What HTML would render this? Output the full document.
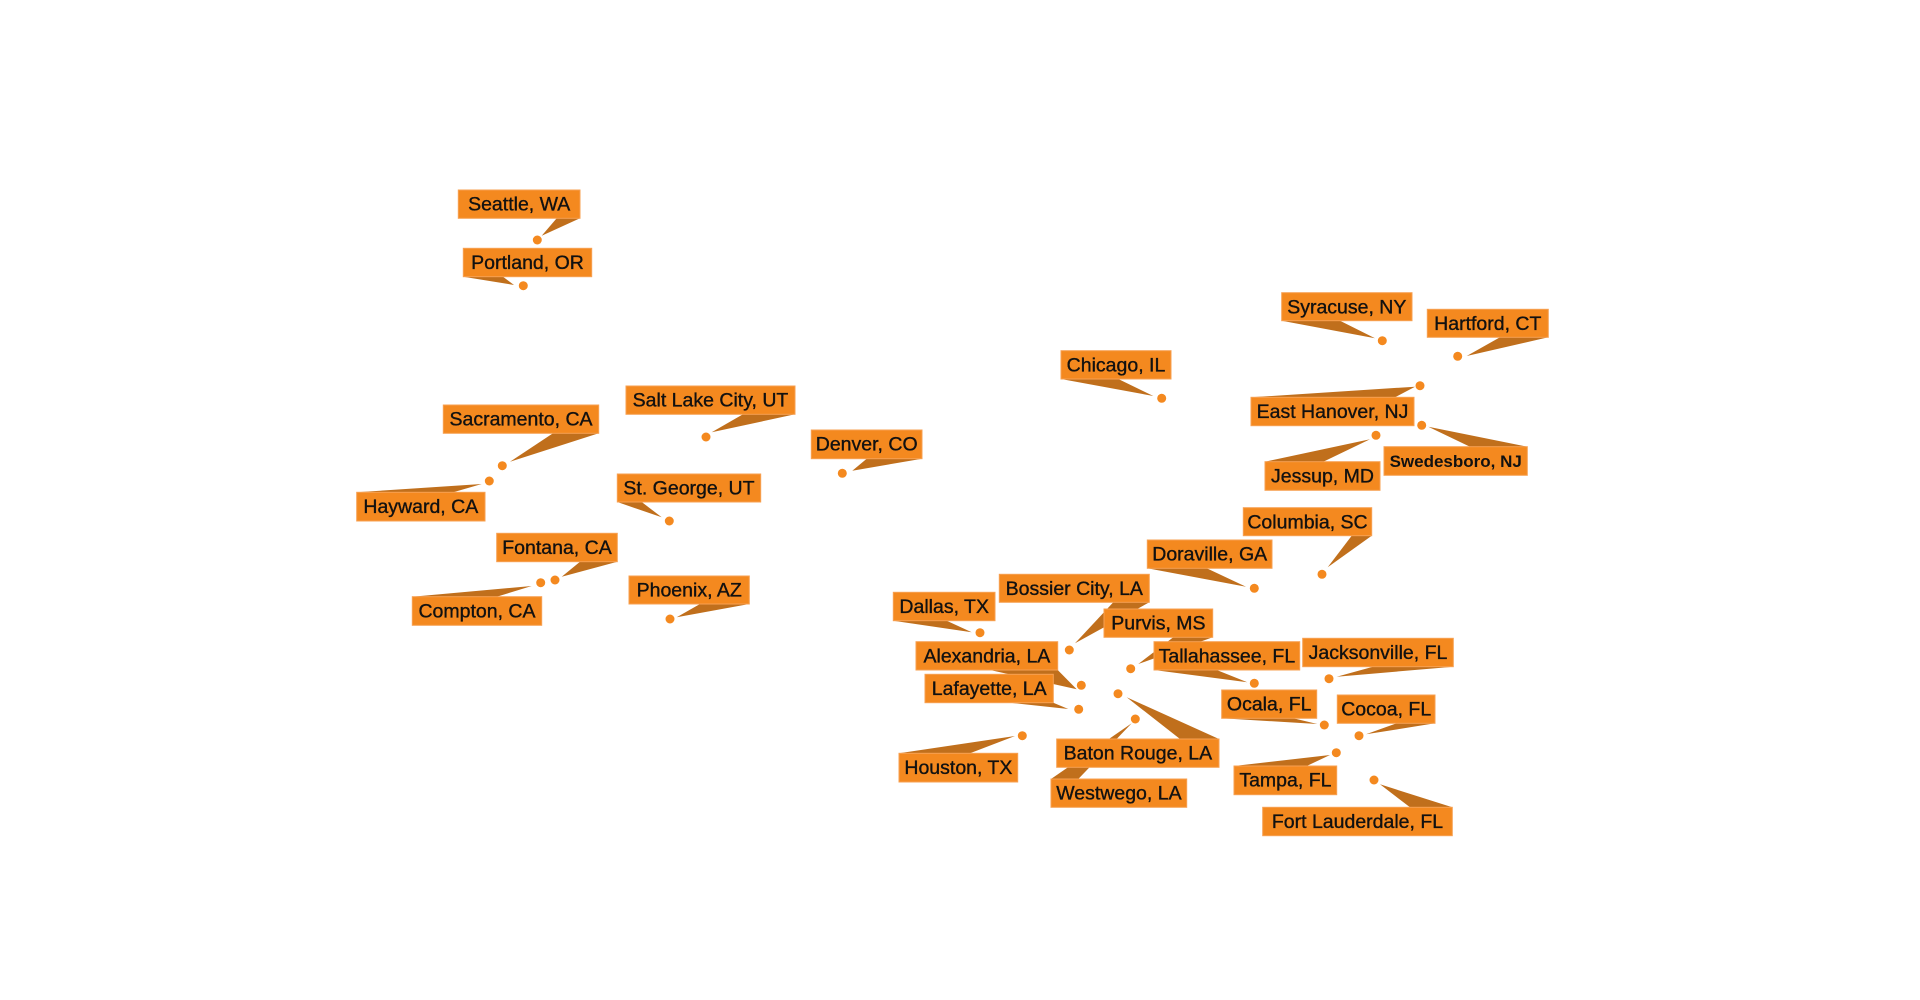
<!DOCTYPE html>
<html>
<head>
<meta charset="utf-8">
<style>
  html, body { margin: 0; padding: 0; background: #ffffff; }
  svg { display: block; }
  .t { fill: #c06f1c; }
  .b { fill: #f4891f; stroke: #f7a052; stroke-width: 1; }
  .d { fill: #f4891f; }
  text { font-family: "Liberation Sans", sans-serif; font-size: 19.5px; fill: #111; text-anchor: middle; stroke: #111; stroke-width: 0.35px; }
  text.sm { font-size: 17px; font-weight: bold; stroke-width: 0; }
</style>
</head>
<body>
<svg width="1920" height="1000" viewBox="0 0 1920 1000" xmlns="http://www.w3.org/2000/svg">
  <!-- tails -->
  <g class="t">
    <polygon points="556.7,218.3 580,218.3 541.7,235.7"/>
    <polygon points="463.3,276.7 503,276.7 514,285"/>
    <polygon points="553,433.3 598.7,433.3 510,461.7"/>
    <polygon points="743,414.3 795,414.3 711.7,432.3"/>
    <polygon points="356.7,492.3 453.3,492.3 481.7,484"/>
    <polygon points="866.7,458.7 922,458.7 852.3,470.7"/>
    <polygon points="617.3,502 641.7,502 661.7,517.3"/>
    <polygon points="580,561.7 617.3,561.7 561.7,576.7"/>
    <polygon points="412.3,596.7 496.7,596.7 531.7,586"/>
    <polygon points="700,604 749.3,604 676.7,617.3"/>
    <polygon points="1061,379 1118.3,379 1153.3,396"/>
    <polygon points="1281.7,320.7 1340,320.7 1375,338.3"/>
    <polygon points="1500,337.3 1548.3,337.3 1466.7,356"/>
    <polygon points="1251,397.3 1395,397.3 1415,386.7"/>
    <polygon points="1470,446.7 1527.3,446.7 1428.3,426.7"/>
    <polygon points="1265,461.7 1323.3,461.7 1370,439.3"/>
    <polygon points="1351.7,535.7 1371.7,535.7 1327.7,567.3"/>
    <polygon points="1147.3,568.3 1206.7,568.3 1246,586.7"/>
    <polygon points="893.3,620.7 946.7,620.7 971.7,632.3"/>
    <polygon points="1113.3,602.3 1149.3,602.3 1075,643.3"/>
    <polygon points="1173.3,637.3 1212.7,637.3 1138.3,664"/>
    <polygon points="1154,670 1216.7,670 1247.3,682.3"/>
    <polygon points="1373,666.7 1453.3,666.7 1336.7,676.7"/>
    <polygon points="990,670 1057.7,670 1076.7,689.3"/>
    <polygon points="1010,702.7 1053.3,702.7 1068.3,709"/>
    <polygon points="1180,739 1219,739 1126.7,697.3"/>
    <polygon points="1051,779 1078.3,779 1131.7,723.3"/>
    <polygon points="899,753.3 970,753.3 1015,736"/>
    <polygon points="1221.7,718.3 1293.3,718.3 1317.3,724"/>
    <polygon points="1396.7,723.3 1435,723.3 1366,734.3"/>
    <polygon points="1234,766 1306.7,766 1330,755"/>
    <polygon points="1410,807.3 1452.3,807.3 1380,784.3"/>
  </g>

  <!-- boxes -->
  <g class="b">
    <rect x="458.3" y="190" width="121.7" height="28.3"/>
    <rect x="463.3" y="248.3" width="128.4" height="28.4"/>
    <rect x="443.3" y="405" width="155.4" height="28.3"/>
    <rect x="626" y="386" width="169" height="28.3"/>
    <rect x="356.7" y="492.3" width="128.3" height="28.7"/>
    <rect x="811.3" y="430" width="110.7" height="28.7"/>
    <rect x="617.3" y="474" width="143.4" height="28"/>
    <rect x="496.7" y="533.3" width="120.6" height="28.4"/>
    <rect x="412.3" y="596.7" width="129.4" height="28.6"/>
    <rect x="629" y="576" width="120.3" height="28"/>
    <rect x="1061" y="350.7" width="110" height="28.3"/>
    <rect x="1281.7" y="292.7" width="130.3" height="28"/>
    <rect x="1427.3" y="309.3" width="121" height="28"/>
    <rect x="1251" y="397.3" width="163" height="28.4"/>
    <rect x="1384" y="446.7" width="143.3" height="28.6"/>
    <rect x="1265" y="461.7" width="115" height="28.6"/>
    <rect x="1243.3" y="507.7" width="128.4" height="28"/>
    <rect x="1147.3" y="540" width="124.7" height="28.3"/>
    <rect x="893.3" y="592.3" width="101.7" height="28.4"/>
    <rect x="999.3" y="574.3" width="150" height="28"/>
    <rect x="1104" y="609" width="108.7" height="28.3"/>
    <rect x="1154" y="641.7" width="145.7" height="28.3"/>
    <rect x="1302.7" y="638.3" width="150.6" height="28.4"/>
    <rect x="916" y="641.7" width="141.7" height="28.3"/>
    <rect x="925" y="674.3" width="128.3" height="28.4"/>
    <rect x="899" y="753.3" width="118.7" height="28.7"/>
    <rect x="1056.7" y="739" width="162.3" height="28.3"/>
    <rect x="1051" y="779" width="135.7" height="28.3"/>
    <rect x="1221.7" y="690" width="95" height="28.3"/>
    <rect x="1337.3" y="695" width="97.7" height="28.3"/>
    <rect x="1234" y="766" width="102.7" height="28.7"/>
    <rect x="1262.7" y="807.3" width="189.6" height="28.4"/>
  </g>

  <!-- labels -->
  <text x="519.2" y="210.7">Seattle, WA</text>
  <text x="527.5" y="269">Portland, OR</text>
  <text x="521" y="425.7">Sacramento, CA</text>
  <text x="710.5" y="406.7">Salt Lake City, UT</text>
  <text x="420.8" y="513">Hayward, CA</text>
  <text x="866.7" y="450.7">Denver, CO</text>
  <text x="689" y="494.7">St. George, UT</text>
  <text x="557" y="554">Fontana, CA</text>
  <text x="477" y="617.4">Compton, CA</text>
  <text x="689.2" y="596.7">Phoenix, AZ</text>
  <text x="1116" y="371.4">Chicago, IL</text>
  <text x="1346.8" y="313.4">Syracuse, NY</text>
  <text x="1487.8" y="330">Hartford, CT</text>
  <text x="1332.5" y="418">East Hanover, NJ</text>
  <text class="sm" x="1455.7" y="466.8">Swedesboro, NJ</text>
  <text x="1322.5" y="482.4">Jessup, MD</text>
  <text x="1307.5" y="528.4">Columbia, SC</text>
  <text x="1209.7" y="560.7">Doraville, GA</text>
  <text x="944.2" y="613">Dallas, TX</text>
  <text x="1074.3" y="595">Bossier City, LA</text>
  <text x="1158.4" y="629.7">Purvis, MS</text>
  <text x="1226.9" y="662.4">Tallahassee, FL</text>
  <text x="1378" y="659">Jacksonville, FL</text>
  <text x="986.9" y="662.4">Alexandria, LA</text>
  <text x="989.2" y="695">Lafayette, LA</text>
  <text x="958.4" y="774">Houston, TX</text>
  <text x="1137.9" y="759.7">Baton Rouge, LA</text>
  <text x="1118.9" y="799.7">Westwego, LA</text>
  <text x="1269.2" y="710.7">Ocala, FL</text>
  <text x="1386.2" y="715.7">Cocoa, FL</text>
  <text x="1285.4" y="786.7">Tampa, FL</text>
  <text x="1357.5" y="828">Fort Lauderdale, FL</text>

  <!-- dots -->
  <g class="d">
    <circle cx="537.3" cy="240" r="4.5"/>
    <circle cx="523.3" cy="285.7" r="4.5"/>
    <circle cx="502.3" cy="465.7" r="4.5"/>
    <circle cx="489.3" cy="481" r="4.5"/>
    <circle cx="706" cy="437" r="4.5"/>
    <circle cx="842.3" cy="473.3" r="4.5"/>
    <circle cx="669.3" cy="521" r="4.5"/>
    <circle cx="555" cy="580" r="4.5"/>
    <circle cx="540.7" cy="582.7" r="4.5"/>
    <circle cx="670" cy="619" r="4.5"/>
    <circle cx="1161.7" cy="398.3" r="4.5"/>
    <circle cx="1382.3" cy="340.7" r="4.5"/>
    <circle cx="1457.7" cy="356.3" r="4.5"/>
    <circle cx="1420" cy="385.7" r="4.5"/>
    <circle cx="1421.7" cy="425.3" r="4.5"/>
    <circle cx="1376" cy="435.3" r="4.5"/>
    <circle cx="1322" cy="574.3" r="4.5"/>
    <circle cx="1254.3" cy="588.3" r="4.5"/>
    <circle cx="980" cy="632.7" r="4.5"/>
    <circle cx="1069.3" cy="650" r="4.5"/>
    <circle cx="1130.7" cy="668.7" r="4.5"/>
    <circle cx="1254.3" cy="683.3" r="4.5"/>
    <circle cx="1329" cy="678.7" r="4.5"/>
    <circle cx="1081.3" cy="685.3" r="4.5"/>
    <circle cx="1078.7" cy="709.3" r="4.5"/>
    <circle cx="1118" cy="693.7" r="4.5"/>
    <circle cx="1135.3" cy="719" r="4.5"/>
    <circle cx="1022.3" cy="735.7" r="4.5"/>
    <circle cx="1324.3" cy="725" r="4.5"/>
    <circle cx="1359" cy="735.7" r="4.5"/>
    <circle cx="1336.3" cy="752.7" r="4.5"/>
    <circle cx="1374" cy="780" r="4.5"/>
  </g>
</svg>
</body>
</html>
